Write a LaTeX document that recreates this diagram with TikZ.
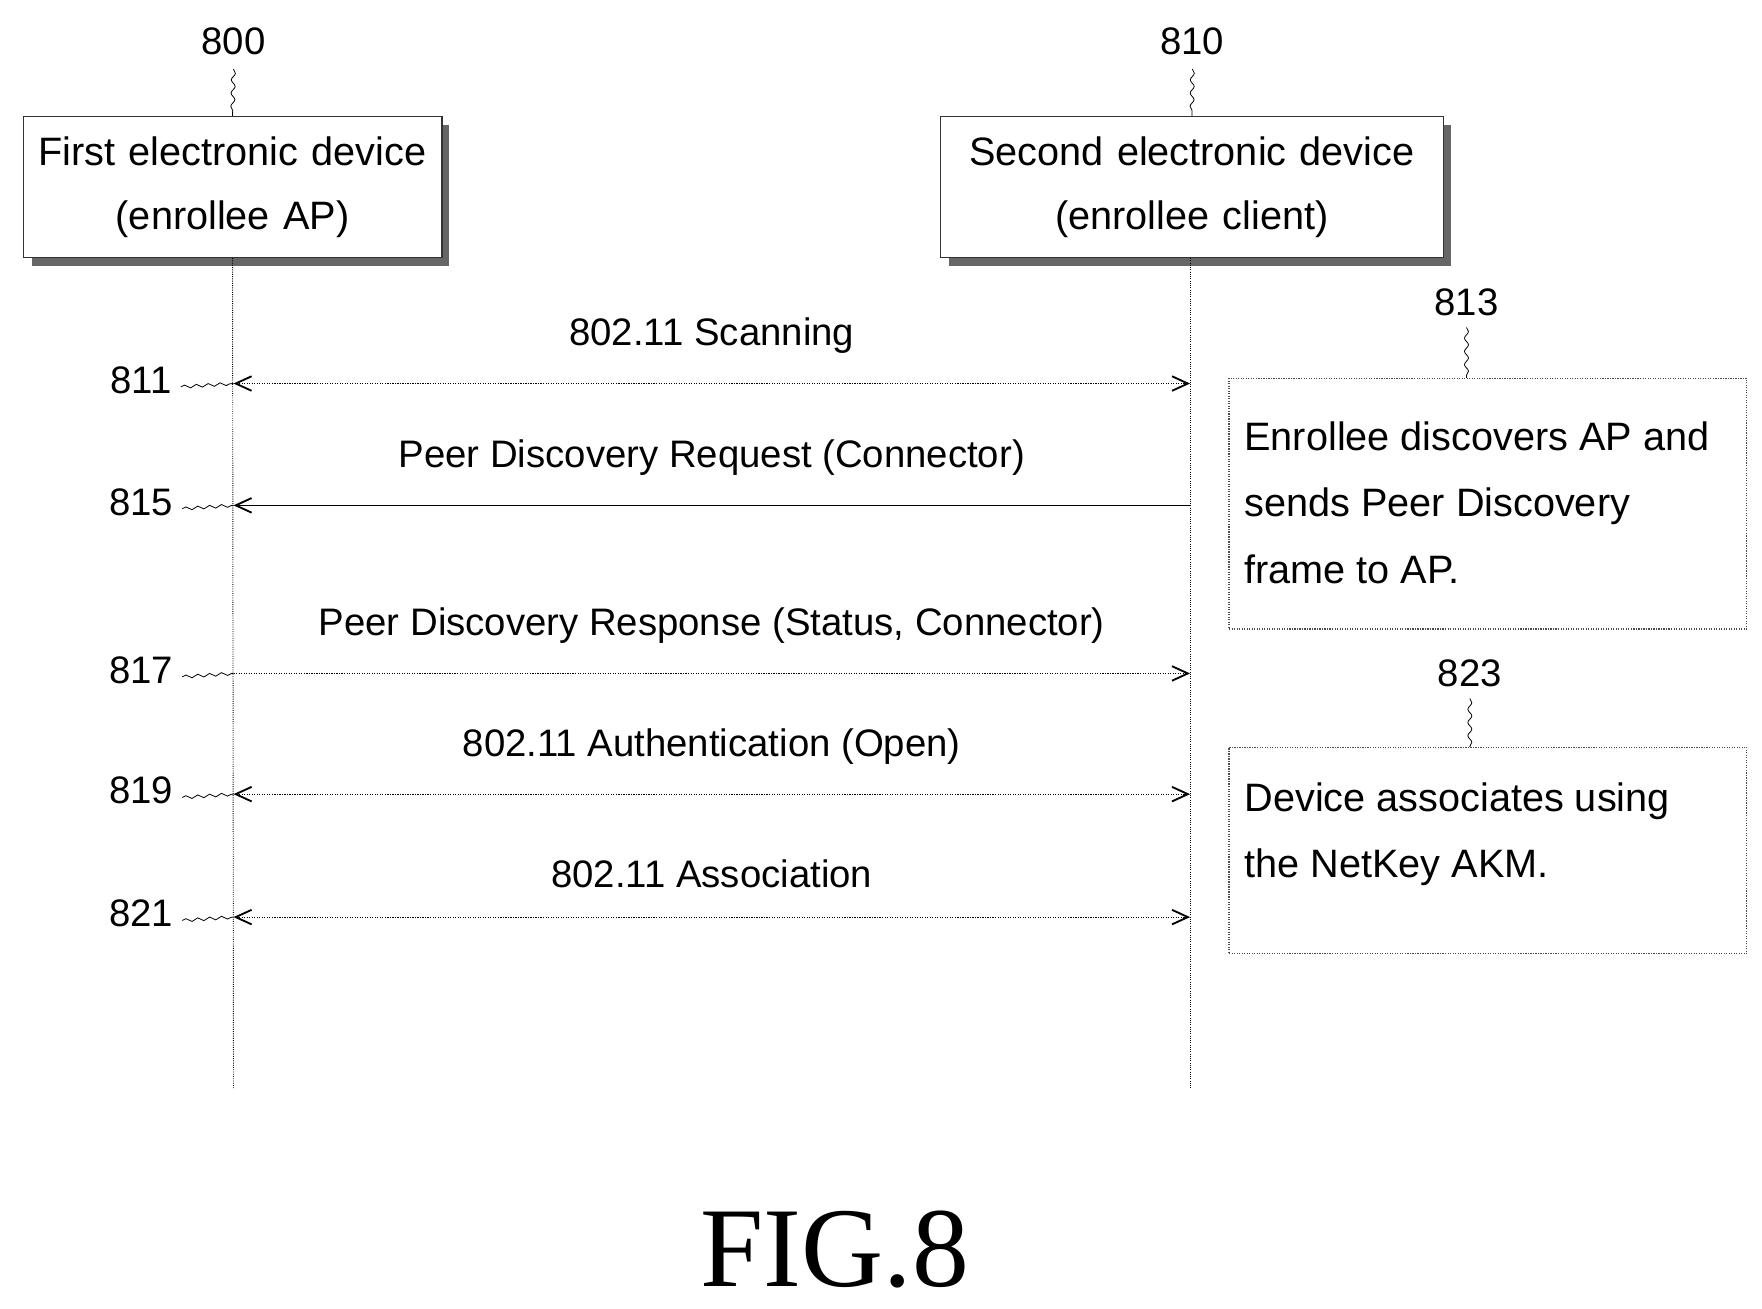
\documentclass[tikz,border=0pt]{standalone}
\usepackage{fontspec}
\setmainfont{Liberation Sans}
\newfontfamily\figfont{Liberation Serif}
\usetikzlibrary{arrows.meta,decorations.pathmorphing}
\begin{document}
\begin{tikzpicture}[x=0.03cm,y=-0.03cm,
  txt/.style={font=\fontsize{29}{36}\selectfont,inner sep=0pt},
  dev/.style={draw=black!80,line width=0.8pt,fill=white,minimum height=125*0.03cm,align=center,font=\fontsize{30}{48}\selectfont,inner xsep=4pt},
  note/.style={draw=black!70,densely dotted,line width=0.9pt,minimum width=459*0.03cm,anchor=north west},
  life/.style={densely dotted,line width=0.7pt},
  msg/.style={densely dotted,line width=0.9pt},
  tip/.style={-{Straight Barb[length=12pt,width=11pt,line width=1.4pt]}},
  dtip/.style={{Straight Barb[length=12pt,width=11pt,line width=1.4pt]}-{Straight Barb[length=12pt,width=11pt,line width=1.4pt]}},
  sq/.style={decorate,decoration={snake,amplitude=1.5pt,segment length=10pt},line width=0.6pt}]
\useasboundingbox (0,0) rectangle (1562,1160);
% shadows
\fill[black!60] (28,111) rectangle (398,236);
\fill[black!60] (841,111) rectangle (1286,236);
\node[dev,anchor=north west,minimum width=370*0.03cm,text width=362*0.03cm] (d1) at (20,103) {First electronic device\\(enrollee AP)};
\node[dev,anchor=north west,minimum width=445*0.03cm,text width=437*0.03cm] (d2) at (833,103) {Second electronic device\\(enrollee client)};
\node[txt] (n800) at (207,37) {800};
\node[txt] (n810) at (1057,37) {810};
\draw[sq] (n800.south) ++(0,12) -- (d1.north);
\draw[sq] (n810.south) ++(0,12) -- (d2.north);
\coordinate (e1) at (207,965);
\coordinate (e2) at (1055,965);
\draw[life] (d1.south) -- (e1);
\draw[life] (d2.south -| e2) -- (e2);
% messages
\foreach \n/\y in {a/340,b/448,c/597,d/704,e/813}{
  \coordinate (L\n) at (207,\y); \coordinate (R\n) at (1055,\y);}
\draw[msg,dtip] (La) -- node[txt,above=22pt]{802.11 Scanning} (Ra);
\draw[line width=0.8pt,tip] (Rb) -- node[txt,above=22pt]{Peer Discovery Request (Connector)} (Lb);
\draw[msg,tip] (Lc) -- node[txt,above=22pt]{Peer Discovery Response (Status, Connector)} (Rc);
\draw[msg,dtip] (Ld) -- node[txt,above=22pt]{802.11 Authentication (Open)} (Rd);
\draw[msg,dtip] (Le) -- node[txt,above=22pt]{802.11 Association} (Re);
\foreach \n/\t/\y in {a/811/337,b/815/445,c/817/594,d/819/701,e/821/810}{
  \node[txt] (r\t) at (125,\y) {\t};
  \draw[sq,decoration={snake,amplitude=1.2pt,segment length=9pt}] (r\t.east) ++(8,6) -- (L\n);}
% notes
\node[note,minimum height=222*0.03cm] (b813) at (1089,335) {};
\node[txt,anchor=north west,align=left,font=\fontsize{30}{50}\selectfont] (t813) at (1103,374) {Enrollee discovers AP and\\sends Peer Discovery\\frame to AP.};
\node[note,minimum height=183*0.03cm] (b823) at (1089,662) {};
\node[txt,anchor=north west,align=left,font=\fontsize{30}{50}\selectfont] (t823) at (1103,694) {Device associates using\\the NetKey AKM.};
\node[txt] (n813) at (1300,268) {813};
\node[txt] (n823) at (1303,597) {823};
\draw[sq] (n813.south) ++(0,10) -- (b813.north -| n813);
\draw[sq] (n823.south) ++(0,10) -- (b823.north -| n823);
\node[inner sep=0pt,font=\figfont\fontsize{86}{86}\selectfont] (fig) at (740,1108) {FIG.8};
\end{tikzpicture}
\end{document}
